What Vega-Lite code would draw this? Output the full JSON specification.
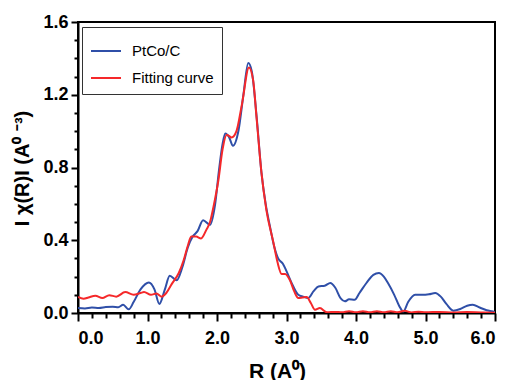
{
  "$schema": "https://vega.github.io/schema/vega-lite/v6.json",
  "width": 417,
  "height": 291,
  "autosize": "none",
  "padding": {"left": 78, "top": 22, "right": 13, "bottom": 67},
  "background": "white",
  "config": {
    "view": {"stroke": "#000000", "strokeWidth": 2},
    "axis": {
      "labelFont": "Liberation Sans",
      "labelFontWeight": "bold",
      "labelFontSize": 18,
      "labelColor": "#000000",
      "titleFont": "Liberation Sans",
      "titleFontWeight": "bold",
      "titleFontSize": 20,
      "titleColor": "#000000",
      "domainColor": "#000000",
      "tickColor": "#000000",
      "grid": false
    }
  },
  "datasets": {
    "blue": [
      {"r": 0.0, "v": 0.027, "series": "PtCo/C"},
      {"r": 0.1, "v": 0.025, "series": "PtCo/C"},
      {"r": 0.2, "v": 0.03, "series": "PtCo/C"},
      {"r": 0.3, "v": 0.028, "series": "PtCo/C"},
      {"r": 0.4, "v": 0.033, "series": "PtCo/C"},
      {"r": 0.5, "v": 0.035, "series": "PtCo/C"},
      {"r": 0.58, "v": 0.032, "series": "PtCo/C"},
      {"r": 0.65, "v": 0.045, "series": "PtCo/C"},
      {"r": 0.73, "v": 0.02, "series": "PtCo/C"},
      {"r": 0.8, "v": 0.06, "series": "PtCo/C"},
      {"r": 0.9, "v": 0.13, "series": "PtCo/C"},
      {"r": 1.02, "v": 0.168, "series": "PtCo/C"},
      {"r": 1.1, "v": 0.13, "series": "PtCo/C"},
      {"r": 1.17, "v": 0.05, "series": "PtCo/C"},
      {"r": 1.25, "v": 0.13, "series": "PtCo/C"},
      {"r": 1.32, "v": 0.205, "series": "PtCo/C"},
      {"r": 1.42, "v": 0.18, "series": "PtCo/C"},
      {"r": 1.5, "v": 0.25, "series": "PtCo/C"},
      {"r": 1.58, "v": 0.36, "series": "PtCo/C"},
      {"r": 1.65, "v": 0.42, "series": "PtCo/C"},
      {"r": 1.72, "v": 0.45, "series": "PtCo/C"},
      {"r": 1.8, "v": 0.51, "series": "PtCo/C"},
      {"r": 1.9, "v": 0.485, "series": "PtCo/C"},
      {"r": 1.97, "v": 0.59, "series": "PtCo/C"},
      {"r": 2.03, "v": 0.79, "series": "PtCo/C"},
      {"r": 2.08, "v": 0.93, "series": "PtCo/C"},
      {"r": 2.12, "v": 0.987, "series": "PtCo/C"},
      {"r": 2.17, "v": 0.97, "series": "PtCo/C"},
      {"r": 2.23, "v": 0.92, "series": "PtCo/C"},
      {"r": 2.31, "v": 1.005, "series": "PtCo/C"},
      {"r": 2.38, "v": 1.2, "series": "PtCo/C"},
      {"r": 2.45, "v": 1.375, "series": "PtCo/C"},
      {"r": 2.5, "v": 1.33, "series": "PtCo/C"},
      {"r": 2.57, "v": 1.08, "series": "PtCo/C"},
      {"r": 2.64, "v": 0.77, "series": "PtCo/C"},
      {"r": 2.7, "v": 0.6, "series": "PtCo/C"},
      {"r": 2.76, "v": 0.48, "series": "PtCo/C"},
      {"r": 2.82, "v": 0.37, "series": "PtCo/C"},
      {"r": 2.88, "v": 0.3, "series": "PtCo/C"},
      {"r": 2.95, "v": 0.27, "series": "PtCo/C"},
      {"r": 3.0, "v": 0.23, "series": "PtCo/C"},
      {"r": 3.08, "v": 0.16, "series": "PtCo/C"},
      {"r": 3.17, "v": 0.1, "series": "PtCo/C"},
      {"r": 3.24, "v": 0.09, "series": "PtCo/C"},
      {"r": 3.31, "v": 0.082, "series": "PtCo/C"},
      {"r": 3.39, "v": 0.12, "series": "PtCo/C"},
      {"r": 3.46, "v": 0.146, "series": "PtCo/C"},
      {"r": 3.55, "v": 0.15, "series": "PtCo/C"},
      {"r": 3.63, "v": 0.165, "series": "PtCo/C"},
      {"r": 3.7, "v": 0.14, "series": "PtCo/C"},
      {"r": 3.78, "v": 0.08, "series": "PtCo/C"},
      {"r": 3.84, "v": 0.064, "series": "PtCo/C"},
      {"r": 3.9, "v": 0.075, "series": "PtCo/C"},
      {"r": 3.98, "v": 0.073, "series": "PtCo/C"},
      {"r": 4.05, "v": 0.11, "series": "PtCo/C"},
      {"r": 4.15, "v": 0.165, "series": "PtCo/C"},
      {"r": 4.25, "v": 0.21, "series": "PtCo/C"},
      {"r": 4.33, "v": 0.22, "series": "PtCo/C"},
      {"r": 4.4, "v": 0.2, "series": "PtCo/C"},
      {"r": 4.46, "v": 0.165, "series": "PtCo/C"},
      {"r": 4.55, "v": 0.1, "series": "PtCo/C"},
      {"r": 4.62, "v": 0.04, "series": "PtCo/C"},
      {"r": 4.68, "v": 0.008, "series": "PtCo/C"},
      {"r": 4.75, "v": 0.06, "series": "PtCo/C"},
      {"r": 4.85, "v": 0.1, "series": "PtCo/C"},
      {"r": 4.95, "v": 0.1, "series": "PtCo/C"},
      {"r": 5.05, "v": 0.103, "series": "PtCo/C"},
      {"r": 5.14, "v": 0.11, "series": "PtCo/C"},
      {"r": 5.22, "v": 0.09, "series": "PtCo/C"},
      {"r": 5.3, "v": 0.05, "series": "PtCo/C"},
      {"r": 5.4, "v": 0.013, "series": "PtCo/C"},
      {"r": 5.5, "v": 0.022, "series": "PtCo/C"},
      {"r": 5.6, "v": 0.04, "series": "PtCo/C"},
      {"r": 5.68, "v": 0.045, "series": "PtCo/C"},
      {"r": 5.78, "v": 0.03, "series": "PtCo/C"},
      {"r": 5.88, "v": 0.015, "series": "PtCo/C"},
      {"r": 5.97, "v": 0.008, "series": "PtCo/C"},
      {"r": 6.0, "v": 0.005, "series": "PtCo/C"}
    ],
    "red": [
      {"r": 0.0, "v": 0.088, "series": "Fitting curve"},
      {"r": 0.08, "v": 0.078, "series": "Fitting curve"},
      {"r": 0.15, "v": 0.085, "series": "Fitting curve"},
      {"r": 0.25, "v": 0.095, "series": "Fitting curve"},
      {"r": 0.35, "v": 0.083, "series": "Fitting curve"},
      {"r": 0.45, "v": 0.098, "series": "Fitting curve"},
      {"r": 0.55, "v": 0.09, "series": "Fitting curve"},
      {"r": 0.68, "v": 0.115, "series": "Fitting curve"},
      {"r": 0.8, "v": 0.1, "series": "Fitting curve"},
      {"r": 0.9, "v": 0.11, "series": "Fitting curve"},
      {"r": 0.95, "v": 0.115, "series": "Fitting curve"},
      {"r": 1.05, "v": 0.1, "series": "Fitting curve"},
      {"r": 1.13, "v": 0.107, "series": "Fitting curve"},
      {"r": 1.2, "v": 0.09, "series": "Fitting curve"},
      {"r": 1.27, "v": 0.11, "series": "Fitting curve"},
      {"r": 1.35, "v": 0.16, "series": "Fitting curve"},
      {"r": 1.45, "v": 0.22, "series": "Fitting curve"},
      {"r": 1.52, "v": 0.29, "series": "Fitting curve"},
      {"r": 1.58, "v": 0.37, "series": "Fitting curve"},
      {"r": 1.63, "v": 0.42, "series": "Fitting curve"},
      {"r": 1.7, "v": 0.42, "series": "Fitting curve"},
      {"r": 1.77, "v": 0.41, "series": "Fitting curve"},
      {"r": 1.85, "v": 0.46, "series": "Fitting curve"},
      {"r": 1.9, "v": 0.5, "series": "Fitting curve"},
      {"r": 1.95, "v": 0.585, "series": "Fitting curve"},
      {"r": 2.02, "v": 0.73, "series": "Fitting curve"},
      {"r": 2.08, "v": 0.9, "series": "Fitting curve"},
      {"r": 2.14, "v": 0.98, "series": "Fitting curve"},
      {"r": 2.21, "v": 0.965, "series": "Fitting curve"},
      {"r": 2.28, "v": 1.0, "series": "Fitting curve"},
      {"r": 2.36, "v": 1.15, "series": "Fitting curve"},
      {"r": 2.46, "v": 1.35, "series": "Fitting curve"},
      {"r": 2.52, "v": 1.28, "series": "Fitting curve"},
      {"r": 2.57, "v": 1.07, "series": "Fitting curve"},
      {"r": 2.64, "v": 0.77, "series": "Fitting curve"},
      {"r": 2.71, "v": 0.567, "series": "Fitting curve"},
      {"r": 2.81, "v": 0.39, "series": "Fitting curve"},
      {"r": 2.87, "v": 0.28, "series": "Fitting curve"},
      {"r": 2.93, "v": 0.215, "series": "Fitting curve"},
      {"r": 2.98, "v": 0.215, "series": "Fitting curve"},
      {"r": 3.05, "v": 0.18, "series": "Fitting curve"},
      {"r": 3.11, "v": 0.12, "series": "Fitting curve"},
      {"r": 3.17, "v": 0.082, "series": "Fitting curve"},
      {"r": 3.23, "v": 0.085, "series": "Fitting curve"},
      {"r": 3.29, "v": 0.088, "series": "Fitting curve"},
      {"r": 3.35, "v": 0.055, "series": "Fitting curve"},
      {"r": 3.41, "v": 0.018, "series": "Fitting curve"},
      {"r": 3.48, "v": 0.027, "series": "Fitting curve"},
      {"r": 3.58, "v": 0.004, "series": "Fitting curve"},
      {"r": 3.7, "v": 0.006, "series": "Fitting curve"},
      {"r": 3.8, "v": 0.004, "series": "Fitting curve"},
      {"r": 3.9, "v": 0.01, "series": "Fitting curve"},
      {"r": 4.0, "v": 0.004, "series": "Fitting curve"},
      {"r": 4.1, "v": 0.01, "series": "Fitting curve"},
      {"r": 4.2, "v": 0.004, "series": "Fitting curve"},
      {"r": 4.3, "v": 0.01, "series": "Fitting curve"},
      {"r": 4.4, "v": 0.004, "series": "Fitting curve"},
      {"r": 4.5, "v": 0.01, "series": "Fitting curve"},
      {"r": 4.6, "v": 0.004, "series": "Fitting curve"},
      {"r": 4.7, "v": 0.012, "series": "Fitting curve"},
      {"r": 4.8, "v": 0.003, "series": "Fitting curve"},
      {"r": 4.9, "v": 0.007, "series": "Fitting curve"},
      {"r": 5.0, "v": 0.004, "series": "Fitting curve"},
      {"r": 5.2, "v": 0.006, "series": "Fitting curve"},
      {"r": 5.4, "v": 0.003, "series": "Fitting curve"},
      {"r": 5.6, "v": 0.005, "series": "Fitting curve"},
      {"r": 5.8, "v": 0.003, "series": "Fitting curve"},
      {"r": 6.0, "v": 0.002, "series": "Fitting curve"}
    ]
  },
  "layer": [
    {
      "data": {"name": "blue"},
      "mark": {"type": "line", "strokeWidth": 2, "interpolate": "monotone", "clip": true},
      "encoding": {
        "x": {
          "field": "r", "type": "quantitative",
          "scale": {"domain": [0, 6], "nice": false, "zero": false},
          "axis": {
            "title": "R (A⁰)",
            "values": [0, 1, 2, 3, 4, 5, 6],
            "format": ".1f",
            "tickSize": 8, "tickWidth": 2, "domainWidth": 2,
            "labelPadding": 8,
            "titleFontSize": 21,
            "titleX": 199, "titleY": 64, "titleBaseline": "alphabetic", "titleAlign": "center"
          }
        },
        "y": {
          "field": "v", "type": "quantitative",
          "scale": {"domain": [0, 1.6], "nice": false},
          "axis": {
            "title": "I χ(R)I (A⁰ ⁻³)",
            "values": [0, 0.4, 0.8, 1.2, 1.6],
            "format": ".1f",
            "tickSize": 7, "tickWidth": 2, "domainWidth": 2,
            "labelPadding": 3,
            "titleX": -50, "titleY": 146, "titleBaseline": "alphabetic", "titleAlign": "center", "titleAngle": -90
          }
        },
        "color": {
          "field": "series", "type": "nominal",
          "scale": {"domain": ["PtCo/C", "Fitting curve"], "range": ["#2f4fa8", "#f5282a"]},
          "legend": {
            "title": null,
            "orient": "none",
            "legendX": 4,
            "legendY": 5,
            "symbolType": "stroke",
            "symbolSize": 900,
            "symbolStrokeWidth": 2,
            "labelFont": "Liberation Sans",
            "labelFontSize": 15,
            "labelColor": "#000000",
            "labelOffset": 10,
            "padding": 8,
            "rowPadding": 3,
            "strokeColor": "#333333",
            "fillColor": "white"
          }
        }
      }
    },
    {
      "data": {"name": "red"},
      "mark": {"type": "line", "strokeWidth": 2, "interpolate": "monotone", "clip": true},
      "encoding": {
        "x": {"field": "r", "type": "quantitative", "axis": null},
        "y": {"field": "v", "type": "quantitative", "axis": null},
        "color": {"field": "series", "type": "nominal"}
      }
    },
    {
      "data": {"name": "red"},
      "mark": {"type": "line", "opacity": 0},
      "encoding": {
        "x": {
          "field": "r", "type": "quantitative",
          "axis": {
            "orient": "bottom", "title": null, "labels": false, "domain": false,
            "values": [0.2, 0.4, 0.6, 0.8, 1.2, 1.4, 1.6, 1.8, 2.2, 2.4, 2.6, 2.8, 3.2, 3.4, 3.6, 3.8, 4.2, 4.4, 4.6, 4.8, 5.2, 5.4, 5.6, 5.8],
            "tickSize": 5, "tickWidth": 2
          }
        },
        "y": {
          "field": "v", "type": "quantitative",
          "axis": {
            "orient": "left", "title": null, "labels": false, "domain": false,
            "values": [0.1, 0.2, 0.3, 0.5, 0.6, 0.7, 0.9, 1.0, 1.1, 1.3, 1.4, 1.5],
            "tickSize": 4, "tickWidth": 2
          }
        }
      }
    }
  ],
  "resolve": {"axis": {"x": "independent", "y": "independent"}}
}
